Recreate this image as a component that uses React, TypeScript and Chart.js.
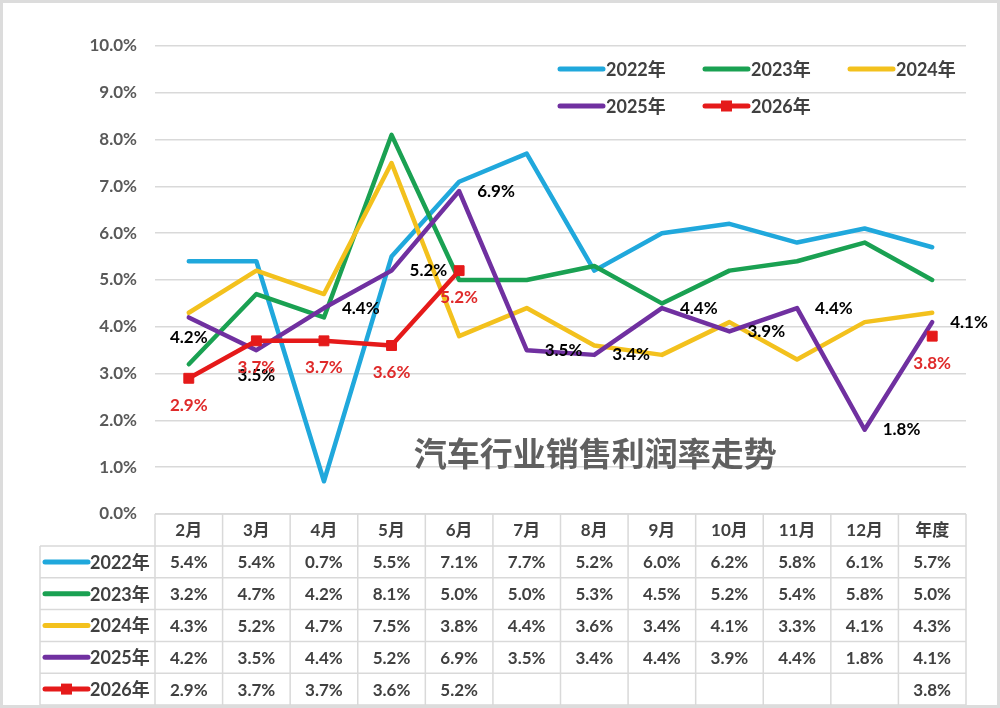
import React, { useEffect, useRef } from "react";
import { Chart, registerables } from "chart.js";

Chart.register(...registerables);

// ---- data ----
const categories = ["2月", "3月", "4月", "5月", "6月", "7月", "8月", "9月", "10月", "11月", "12月", "年度"];
const seriesNames = ["2022年", "2023年", "2024年", "2025年", "2026年"];
const s2022 = [5.4, 5.4, 0.7, 5.5, 7.1, 7.7, 5.2, 6.0, 6.2, 5.8, 6.1, 5.7];
const s2023 = [3.2, 4.7, 4.2, 8.1, 5.0, 5.0, 5.3, 4.5, 5.2, 5.4, 5.8, 5.0];
const s2024 = [4.3, 5.2, 4.7, 7.5, 3.8, 4.4, 3.6, 3.4, 4.1, 3.3, 4.1, 4.3];
const s2025 = [4.2, 3.5, 4.4, 5.2, 6.9, 3.5, 3.4, 4.4, 3.9, 4.4, 1.8, 4.1];
const s2026: (number | null)[] = [2.9, 3.7, 3.7, 3.6, 5.2, null, null, null, null, null, null, 3.8];
const yTickValues = [0, 1, 2, 3, 4, 5, 6, 7, 8, 9, 10];
const chartTitle = "汽车行业销售利润率走势";

const allSeries = [s2022, s2023, s2024, s2025, s2026];
const colors = ["#20A8DC", "#1AA152", "#F3C11D", "#7030A0", "#E51A1A"];
const LABEL_RED = "#DF2A2A";
const TEXT_DARK = "#404040";
const GRID = "#D9D9D9";
const FONT = 'Lato, "Noto Sans CJK SC", sans-serif';

const fmt = (v: number | null) => (v === null || v === undefined ? "" : v.toFixed(1) + "%");

function drawLegendSymbol(ctx: CanvasRenderingContext2D, x1: number, x2: number, y: number, idx: number) {
  ctx.save();
  ctx.strokeStyle = colors[idx];
  ctx.lineWidth = 5;
  ctx.lineCap = "round";
  ctx.beginPath();
  ctx.moveTo(x1, y);
  ctx.lineTo(x2, y);
  ctx.stroke();
  if (idx === 4) {
    ctx.fillStyle = colors[idx];
    const m = (x1 + x2) / 2;
    ctx.fillRect(m - 5.5, y - 5.5, 11, 11);
  }
  ctx.restore();
}

const decorPlugin = {
  id: "decor",
  beforeDatasetsDraw(chart: any) {
    const ctx = chart.ctx as CanvasRenderingContext2D;
    const { left, right } = chart.chartArea;
    const yScale = chart.scales.y;
    ctx.save();
    ctx.font = `bold 33px "Noto Sans CJK SC", sans-serif`;
    ctx.fillStyle = "#606060";
    ctx.textAlign = "center";
    ctx.textBaseline = "middle";
    const cx = left + (right - left) * 0.543;
    ctx.fillText(chartTitle, cx, yScale.getPixelForValue(1.3));
    ctx.restore();
  },
  afterDatasetsDraw(chart: any) {
    const ctx = chart.ctx as CanvasRenderingContext2D;
    const xScale = chart.scales.x;
    const yScale = chart.scales.y;
    ctx.save();
    ctx.font = `bold 17px ${FONT}`;
    ctx.textBaseline = "middle";
    // 2025 labels
    s2025.forEach((v, i) => {
      const px = xScale.getPixelForValue(i);
      const py = yScale.getPixelForValue(v);
      ctx.fillStyle = "#000000";
      if (i < 2) {
        ctx.textAlign = "center";
        ctx.fillText(fmt(v), px, py + (i === 0 ? 20 : 25));
      } else {
        ctx.textAlign = "left";
        ctx.fillText(fmt(v), px + 18, py);
      }
    });
    // 2026 labels
    s2026.forEach((v, i) => {
      if (v === null) return;
      const px = xScale.getPixelForValue(i);
      const py = yScale.getPixelForValue(v);
      ctx.fillStyle = LABEL_RED;
      ctx.textAlign = "center";
      ctx.fillText(fmt(v), px, py + 27);
    });
    ctx.restore();
  },
  afterDraw(chart: any) {
    const ctx = chart.ctx as CanvasRenderingContext2D;
    const { left, right, bottom } = chart.chartArea;
    const W = chart.width;
    const H = chart.height;
    const n = categories.length;
    const colW = (right - left) / n;

    // top legend
    ctx.save();
    ctx.font = `bold 18px ${FONT}`;
    ctx.fillStyle = TEXT_DARK;
    ctx.textBaseline = "middle";
    ctx.textAlign = "left";
    const legCols = [560, 705, 850];
    const legRows = [69, 106];
    seriesNames.forEach((name, i) => {
      const cx = legCols[i % 3];
      const cy = legRows[Math.floor(i / 3)];
      drawLegendSymbol(ctx, cx, cx + 43, cy, i);
      ctx.fillStyle = TEXT_DARK;
      ctx.fillText(name, cx + 46, cy + 1);
    });
    ctx.restore();

    // data table
    const headTop = bottom;
    const headBottom = headTop + 32;
    const tableBottom = H - 3;
    const rowH = (tableBottom - headBottom) / seriesNames.length;
    const legLeft = 40;

    ctx.save();
    ctx.strokeStyle = GRID;
    ctx.lineWidth = 1.5;
    ctx.beginPath();
    ctx.moveTo(left, headTop);
    ctx.lineTo(right, headTop);
    for (let r = 0; r <= seriesNames.length; r++) {
      const y = headBottom + r * rowH;
      ctx.moveTo(legLeft, y);
      ctx.lineTo(right, y);
    }
    ctx.moveTo(legLeft, headBottom);
    ctx.lineTo(legLeft, tableBottom);
    for (let k = 0; k <= n; k++) {
      const x = left + k * colW;
      ctx.moveTo(x, headTop);
      ctx.lineTo(x, tableBottom);
    }
    ctx.stroke();

    ctx.font = `bold 17px ${FONT}`;
    ctx.fillStyle = TEXT_DARK;
    ctx.textBaseline = "middle";
    ctx.textAlign = "center";
    categories.forEach((c, k) => {
      ctx.fillText(c, left + (k + 0.5) * colW, (headTop + headBottom) / 2 + 1);
    });
    allSeries.forEach((arr, r) => {
      const cy = headBottom + (r + 0.5) * rowH + 1;
      arr.forEach((v, k) => {
        ctx.fillText(fmt(v as number | null), left + (k + 0.5) * colW, cy);
      });
    });
    ctx.textAlign = "left";
    ctx.font = `bold 18px ${FONT}`;
    seriesNames.forEach((name, r) => {
      const cy = headBottom + (r + 0.5) * rowH;
      drawLegendSymbol(ctx, 45, 88, cy, r);
      ctx.fillStyle = TEXT_DARK;
      ctx.fillText(name, 90, cy + 1);
    });
    ctx.restore();

    // outer frame
    ctx.save();
    ctx.strokeStyle = "#DCDCDC";
    ctx.lineWidth = 3;
    ctx.strokeRect(1.5, 1.5, W - 3, H - 3);
    ctx.restore();
  },
};

export default function App() {
  const canvasRef = useRef<HTMLCanvasElement | null>(null);

  useEffect(() => {
    document.body.style.margin = "0";
    const canvas = canvasRef.current;
    if (!canvas) return;
    const chart = new Chart(canvas, {
      type: "line",
      data: {
        labels: categories,
        datasets: allSeries.map((arr, i) => ({
          label: seriesNames[i],
          data: arr as any,
          borderColor: colors[i],
          backgroundColor: colors[i],
          borderWidth: 4.5,
          borderJoinStyle: "round" as const,
          borderCapStyle: "round" as const,
          tension: 0,
          spanGaps: false,
          pointRadius: i === 4 ? 7 : 0,
          pointHoverRadius: i === 4 ? 7 : 0,
          pointStyle: "rect" as const,
          pointBorderWidth: 1,
          pointBackgroundColor: colors[i],
          pointBorderColor: colors[i],
          order: 4 - i,
        })),
      },
      options: {
        responsive: false,
        animation: false,
        events: [],
        layout: { padding: { left: 0, top: 46, right: 34, bottom: 194 } },
        plugins: {
          legend: { display: false },
          tooltip: { enabled: false },
          title: { display: false },
        },
        scales: {
          x: {
            type: "category",
            display: false,
            offset: true,
          },
          y: {
            min: yTickValues[0],
            max: yTickValues[yTickValues.length - 1],
            afterFit: (scale: any) => {
              scale.width = 155;
            },
            afterBuildTicks: (scale: any) => {
              scale.ticks = yTickValues.map((v) => ({ value: v }));
            },
            border: { display: false },
            grid: { color: GRID, lineWidth: 1.5, drawTicks: false },
            ticks: {
              padding: 18,
              color: "#595959",
              font: { family: FONT, size: 17, weight: "bold" },
              callback: (v: any) => Number(v).toFixed(1) + "%",
            },
          },
        },
      },
      plugins: [decorPlugin],
    });
    return () => chart.destroy();
  }, []);

  return (
    <div style={{ width: 1000, height: 708, background: "#ffffff" }}>
      <canvas ref={canvasRef} width={1000} height={708} style={{ display: "block", width: 1000, height: 708 }} />
    </div>
  );
}
